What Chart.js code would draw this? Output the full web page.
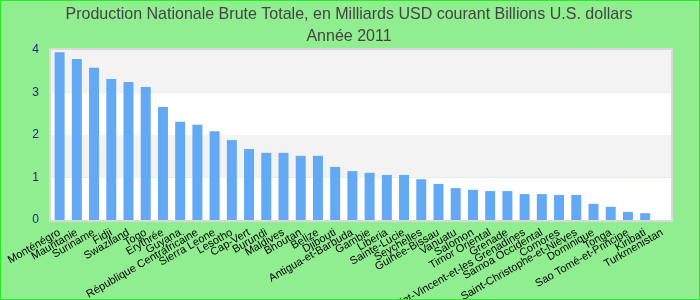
<!DOCTYPE html>
<html>
<head>
<meta charset="utf-8">
<script src="https://cdn.jsdelivr.net/npm/chart.js@4"></script>
<style>
  html, body { margin: 0; padding: 0; background: #90ee90; }
  #wrap { width: 700px; height: 300px; position: relative; }
</style>
</head>
<body>
<div id="wrap"><canvas id="gdpChart" width="700" height="300"></canvas></div>
<script>
// Data (milliards USD, 2011)
const countries = ['Monténégro', 'Mauritanie', 'Suriname', 'Fidji', 'Swaziland', 'Togo', 'Erythrée',
    'Guyana', 'République Centrafricaine', 'Sierra Leone', 'Lesotho', 'Cap-Vert', 'Burundi', 'Maldives',
    'Bhoutan', 'Belize', 'Djibouti', 'Antigua-et-Barbuda', 'Gambie', 'Liberia', 'Sainte-Lucie',
    'Seychelles', 'Guinée-Bissau', 'Vanuatu', 'Salomon', 'Timor Oriental', 'Grenade',
    'Saint-Vincent-et-les Grenadines', 'Samoa Occidental', 'Comores', 'Saint-Christophe-et-Nièves',
    'Dominique', 'Tonga', 'Sao Tomé-et-Principe', 'Kiribati', 'Turkmenistan'];
const gdpValues = [3.95, 3.79, 3.58, 3.32, 3.25, 3.13, 2.66,
    2.31, 2.24, 2.09, 1.88, 1.67, 1.58, 1.58,
    1.51, 1.51, 1.25, 1.15, 1.11, 1.06, 1.06,
    0.96, 0.85, 0.75, 0.71, 0.68, 0.68,
    0.61, 0.61, 0.59, 0.59,
    0.38, 0.31, 0.19, 0.16, null];
const yTicks = [0, 1, 2, 3, 4];
const titleLines = ['Production Nationale Brute Totale, en Milliards USD courant Billions U.S. dollars', 'Année 2011'];

// alternating bands behind the bars + frame around the plot
const plotDecor = {
    id: 'plotDecor',
    beforeDatasetsDraw(chart) {
        const { ctx, chartArea, scales } = chart;
        ctx.save();
        for (let i = 0; i < yTicks.length - 1; i++) {
            const yTop = scales.y.getPixelForValue(yTicks[i + 1]);
            const yBot = scales.y.getPixelForValue(yTicks[i]);
            ctx.fillStyle = (i % 2 === 0) ? '#ffffff' : '#f3f3f3';
            ctx.fillRect(chartArea.left, yTop, chartArea.right - chartArea.left, yBot - yTop);
        }
        ctx.restore();
    },
    afterDraw(chart) {
        const { ctx, chartArea } = chart;
        ctx.save();
        ctx.strokeStyle = '#d9d9d9';
        ctx.lineWidth = 2;
        ctx.strokeRect(chartArea.left - 1, chartArea.top - 1, chartArea.right - chartArea.left + 2, chartArea.bottom - chartArea.top + 2);
        ctx.strokeStyle = '#22ee22';
        ctx.lineWidth = 2;
        ctx.strokeRect(0, 0, chart.width, chart.height);

        // narrow two-line title
        ctx.fillStyle = '#444444';
        ctx.font = '17px "Liberation Sans"';
        ctx.textAlign = 'center';
        ctx.textBaseline = 'alphabetic';
        const full = ctx.measureText(titleLines[0]).width;
        const sx = 567 / full;
        const cx = 349;
        const baselines = [19, 41];
        titleLines.forEach((line, i) => {
            ctx.save();
            ctx.translate(cx, baselines[i]);
            ctx.scale(sx, 1);
            ctx.fillText(line, 0, 0);
            ctx.restore();
        });
        ctx.restore();
    }
};

const ctx = document.getElementById('gdpChart').getContext('2d');
new Chart(ctx, {
    type: 'bar',
    data: {
        labels: countries,
        datasets: [{
            label: 'PNB 2011',
            data: gdpValues,
            backgroundColor: '#63a9f3',
            categoryPercentage: 0.58,
            barPercentage: 1.0
        }]
    },
    options: {
        responsive: false,
        animation: false,
        layout: { padding: { left: 0, right: 29, top: 50, bottom: 0 } },
        plugins: {
            legend: { display: false },
            tooltip: { enabled: false },
            title: { display: false }
        },
        scales: {
            x: {
                grid: { display: false, drawTicks: false },
                border: { display: false },
                ticks: {
                    autoSkip: false,
                    minRotation: 30,
                    maxRotation: 30,
                    padding: 6,
                    color: '#000000',
                    font: { family: 'Liberation Sans', size: 11 }
                },
                afterFit: (s) => { s.height = 80; }
            },
            y: {
                min: 0,
                max: 4,
                grid: { display: false, drawTicks: false },
                border: { display: false },
                ticks: {
                    stepSize: 1,
                    padding: 12,
                    color: '#1c1c8c',
                    font: { family: 'Liberation Sans', size: 12 }
                },
                afterFit: (s) => { s.width = 51; }
            }
        }
    },
    plugins: [plotDecor]
});
</script>
</body>
</html>
